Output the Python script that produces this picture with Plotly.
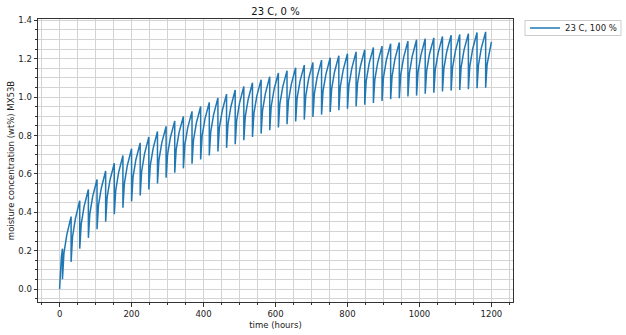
import plotly.graph_objects as go

# ---- data ----
# initial ramp before the first drop
ramp_hours = [0, 2, 5]
ramp_values = [0.0, 0.105, 0.167]

# hours at which each cycle peaks and drops
peak_hours = [8, 32, 56, 80, 104, 128, 152, 176, 200, 224,
              248, 272, 296, 320, 344, 368, 392, 416, 440, 464,
              488, 512, 536, 560, 584, 608, 632, 656, 680, 704,
              728, 752, 776, 800, 824, 848, 872, 896, 920, 944,
              968, 992, 1016, 1040, 1064, 1088, 1112, 1136, 1160, 1184]

peak_values = [0.211, 0.378, 0.461, 0.519, 0.571, 0.615, 0.656, 0.696, 0.731, 0.762,
               0.793, 0.821, 0.848, 0.876, 0.900, 0.926, 0.951, 0.973, 0.996, 1.016,
               1.037, 1.056, 1.075, 1.091, 1.106, 1.126, 1.138, 1.153, 1.167, 1.181,
               1.193, 1.205, 1.216, 1.226, 1.236, 1.247, 1.259, 1.266, 1.278, 1.285,
               1.292, 1.299, 1.304, 1.309, 1.316, 1.323, 1.326, 1.331, 1.337, 1.340]

trough_values = [0.052, 0.142, 0.211, 0.267, 0.312, 0.351, 0.390, 0.424, 0.457, 0.488,
                 0.519, 0.550, 0.580, 0.606, 0.629, 0.653, 0.675, 0.696, 0.717, 0.736,
                 0.755, 0.776, 0.793, 0.810, 0.828, 0.842, 0.859, 0.873, 0.883, 0.897,
                 0.909, 0.923, 0.932, 0.940, 0.952, 0.961, 0.970, 0.980, 0.989, 0.994,
                 1.003, 1.008, 1.018, 1.023, 1.029, 1.034, 1.037, 1.041, 1.046, 1.049]

# values 4 h and 12 h after each drop
early_values = [0.186, 0.273, 0.337, 0.392, 0.436, 0.476, 0.515, 0.550, 0.582, 0.613,
                0.643, 0.672, 0.701, 0.727, 0.751, 0.775, 0.797, 0.819, 0.840, 0.859,
                0.878, 0.899, 0.915, 0.931, 0.950, 0.963, 0.980, 0.994, 1.005, 1.018,
                1.030, 1.043, 1.053, 1.061, 1.073, 1.083, 1.091, 1.102, 1.110, 1.116,
                1.124, 1.129, 1.137, 1.143, 1.150, 1.154, 1.158, 1.162, 1.167, 1.170]

mid_values = [0.283, 0.368, 0.430, 0.483, 0.527, 0.568, 0.607, 0.642, 0.674, 0.705,
              0.733, 0.762, 0.790, 0.815, 0.840, 0.865, 0.887, 0.909, 0.929, 0.950,
              0.969, 0.988, 1.005, 1.020, 1.040, 1.052, 1.068, 1.082, 1.095, 1.107,
              1.119, 1.131, 1.141, 1.150, 1.161, 1.173, 1.180, 1.192, 1.199, 1.206,
              1.213, 1.218, 1.225, 1.231, 1.238, 1.241, 1.246, 1.251, 1.255, 1.257]

sample_offsets = [4, 12]   # hours after each drop for early/mid samples

end_hour = 1200
end_value = 1.288

# ---- build series ----
hours = list(ramp_hours)
moisture = list(ramp_values)
for k, th in enumerate(peak_hours):
    hours += [th, th, th + sample_offsets[0], th + sample_offsets[1]]
    moisture += [peak_values[k], trough_values[k], early_values[k], mid_values[k]]
hours.append(end_hour)
moisture.append(end_value)

FONT = "DejaVu Sans"
AX = "#333333"
GRID = "#d3d3d3"
W, H = 626, 335
ML, MR, MT, MB = 38, 113, 19, 33
PW, PH = W - ML - MR, H - MT - MB

fig = go.Figure()
fig.add_trace(go.Scatter(
    x=hours, y=moisture, mode="lines", name="23 C, 100 %",
    line=dict(color="#1f77b4", width=1.5), showlegend=True))

axis_common = dict(
    showline=True, linecolor=AX, linewidth=1, mirror=True,
    ticks="outside", ticklen=3.5, tickwidth=1, tickcolor=AX,
    showgrid=True, gridcolor=GRID, gridwidth=1, zeroline=False,
    automargin=False,
    tickfont=dict(family=FONT, size=8.5, color="#222222"),
)

# legend frame (matplotlib-style compact box)
box_l, box_r, box_t, box_b = 525, 621, 20.5, 35.5
fig.add_shape(type="rect", xref="paper", yref="paper",
              x0=(box_l - ML) / PW, x1=(box_r - ML) / PW,
              y0=(H - MB - box_b) / PH, y1=(H - MB - box_t) / PH,
              line=dict(color="#cccccc", width=1), fillcolor="rgba(0,0,0,0)",
              layer="above")

fig.update_layout(
    width=W, height=H,
    margin=dict(l=ML, r=MR, t=MT, b=MB, autoexpand=False),
    paper_bgcolor="white", plot_bgcolor="white",
    font=dict(family=FONT, size=8.5, color="#222222"),
    title=dict(text="23 C, 0 %", x=0.5, xref="paper", xanchor="center",
               y=1 - 11 / 335, yref="container", yanchor="middle",
               font=dict(family=FONT, size=10, color="#111111")),
    showlegend=True,
    legend=dict(x=box_l / W, y=1 - 13.5 / H, xref="container", yref="container",
                xanchor="left", yanchor="top",
                borderwidth=0, bgcolor="rgba(0,0,0,0)",
                font=dict(family=FONT, size=8.5, color="#222222"),
                itemwidth=30, tracegroupgap=0),
    xaxis=dict(range=[-60, 1260], dtick=200, tick0=0,
               title=dict(text="time (hours)", standoff=4,
                          font=dict(family=FONT, size=8.5, color="#222222")),
               minor=dict(dtick=50, tick0=0, ticks="outside", ticklen=2,
                          tickcolor=AX, showgrid=True, gridcolor=GRID, gridwidth=1),
               **axis_common),
    yaxis=dict(range=[-0.067, 1.407], dtick=0.2, tick0=0, tickformat=".1f",
               title=dict(text="moisture concentration (wt%) MX53B", standoff=2,
                          font=dict(family=FONT, size=8.5, color="#222222")),
               minor=dict(dtick=0.05, tick0=0, ticks="outside", ticklen=2,
                          tickcolor=AX, showgrid=True, gridcolor=GRID, gridwidth=1),
               **axis_common),
)

fig.write_html("out.html")
